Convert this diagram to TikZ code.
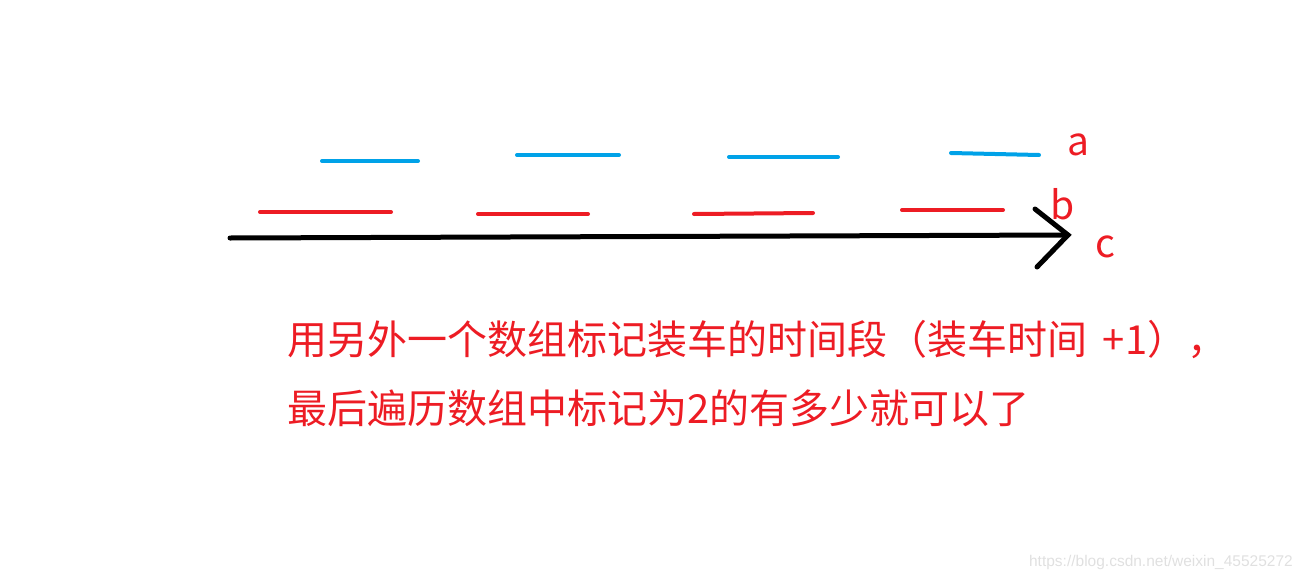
\documentclass[tikz,border=0pt]{standalone}
\usepackage{fontspec}
\setmainfont{Noto Sans CJK SC}
\newfontfamily\wmfont{Liberation Sans}
\definecolor{segblue}{HTML}{00A2E8}
\definecolor{segred}{HTML}{ED1C24}
\begin{document}
\begin{tikzpicture}[x=1pt, y=-1pt,
    seg/.style={line width=4pt, line cap=round},
    axis/.style={line width=5pt, line cap=round, black},
    lbl/.style={inner sep=0pt, text=segred, font=\fontsize{39}{42}\selectfont},
    note/.style={inner sep=0pt, anchor=west, text=segred, font=\fontsize{40}{46}\selectfont}]
    \useasboundingbox (0, 0) rectangle (1301, 581);

    % Row a
    \foreach \i/\xa/\xb/\ya/\yb in {0/322/418/161/161, 1/517/619/155/155,
                                    2/729/838/157/157, 3/951/1039/153/155} {
      \path (\xa, \ya) coordinate (a\i s) (\xb, \yb) coordinate (a\i e);
      \draw [seg, segblue] (a\i s) -- (a\i e);
    }
    \node [lbl] (la) at (1078, 145) {a};

    % Row b
    \foreach \i/\xa/\xb/\ya/\yb in {0/260/391/212/212, 1/478/588/214/214,
                                    2/694/813/214/213, 3/902/1003/210/210} {
      \path (\xa, \ya) coordinate (b\i s) (\xb, \yb) coordinate (b\i e);
      \draw [seg, segred] (b\i s) -- (b\i e);
    }
    \node [lbl] (lb) at (1063, 204) {b};

    % Time axis
    \path (230, 238) coordinate (c0) (1068, 235) coordinate (tip)
          (1035, 209) coordinate (up) (1037, 267) coordinate (dn);
    \draw [axis] (c0) -- (tip);
    \draw [axis] (up) -- (tip) -- (dn);
    \node [lbl] (lc) at (1105, 247) {c};

    % Note
    \node [note] (n1) at (287, 340) {用另外一个数组标记装车的时间段（装车时间 \,+1），};
    \node [note] (n2) at (287, 408) {最后遍历数组中标记为2的有多少就可以了};

    \node [inner sep=0pt, anchor=east, text=black!12, font=\wmfont\fontsize{15.5}{17}\selectfont]
          (wm) at (1293, 562) {https://blog.csdn.net/weixin\_45525272};
\end{tikzpicture}
\end{document}
